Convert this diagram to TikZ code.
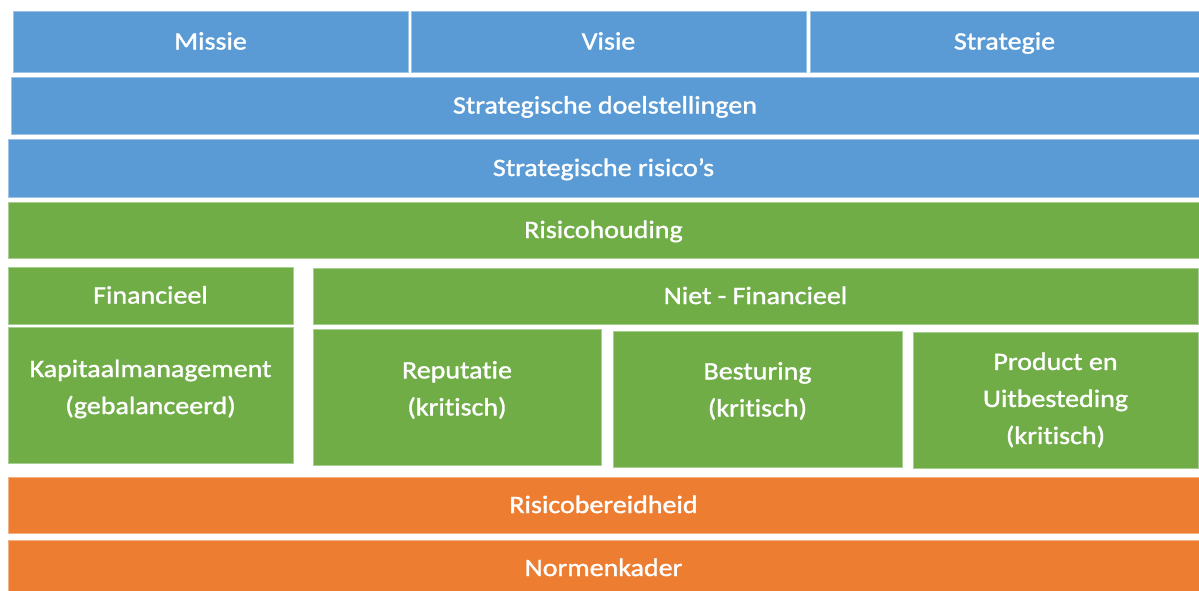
\documentclass[tikz,border=0pt]{standalone}
\usepackage{fontspec}
\setmainfont[Ligatures=NoCommon, FakeStretch=1.12, FakeBold=1.3]{Carlito}
\definecolor{cblue}{HTML}{5B9BD5}
\definecolor{cgreen}{HTML}{70AD47}
\definecolor{corange}{HTML}{ED7D31}
\begin{document}
\begin{tikzpicture}[x=1pt,y=-1pt,
  txt/.style={text=white, font=\fontsize{25}{37}\selectfont, align=center, inner sep=0pt},
  blk/.style={txt, line width=0.5pt},
  one/.style={text height=16pt, text depth=0pt},
  bl/.style={blk, fill=cblue, draw=cblue!60!white},
  gr/.style={blk, fill=cgreen, draw=cgreen!60!white},
  og/.style={blk, fill=corange, draw=corange!60!white}]
\useasboundingbox (0,0) rectangle (1199,590);
\fill[white] (0,0) rectangle (1199,590);
% row 1
\node[bl, one, minimum width=395pt, minimum height=61pt] (missie) at (210.5,41.5) {Missie};
\node[bl, one, minimum width=395pt, minimum height=61pt] (visie) at (608.5,41.5) {Visie};
\node[bl, one, minimum width=389pt, minimum height=61pt] (strategie) at (1004.5,41.5) {Strategie};
% full rows
\node[bl, one, minimum width=1188pt, minimum height=57pt] (doel) at (605,105.5) {Strategische doelstellingen};
\node[bl, one, minimum width=1191pt, minimum height=58pt] (risicos) at (603.5,168) {Strategische risico’s};
\node[gr, one, minimum width=1191pt, minimum height=56pt] (houding) at (603.5,230) {Risicohouding};
% middle
\node[gr, one, minimum width=285pt, minimum height=57pt] (fin) at (150.5,295.5) {Financieel};
\node[gr, minimum width=285pt, minimum height=136pt] (kap) at (150.5,395) {};
\node[txt] (kapt) at (150.5,389) {Kapitaalmanagement\\(gebalanceerd)};
\node[gr, minimum width=288pt, minimum height=136pt] (rep) at (457,397) {};
\node[txt] (rept) at (457,390) {Reputatie\\(kritisch)};
\node[gr, minimum width=289pt, minimum height=136pt] (best) at (757.5,399) {};
\node[txt] (bestt) at (757.5,391) {Besturing\\(kritisch)};
\node[gr, minimum width=285pt, minimum height=136pt] (prod) at (1055.5,400) {Product en\\Uitbesteding\\(kritisch)};
\node[gr, one, minimum width=885pt, minimum height=56pt] (niet) at (755.5,296) {Niet - Financieel};
% bottom
\node[og, one, minimum width=1191pt, minimum height=56pt] (bereid) at (603.5,505) {Risicobereidheid};
\node[og, one, minimum width=1191pt, minimum height=56pt] (normen) at (603.5,568) {Normenkader};
\end{tikzpicture}
\end{document}
